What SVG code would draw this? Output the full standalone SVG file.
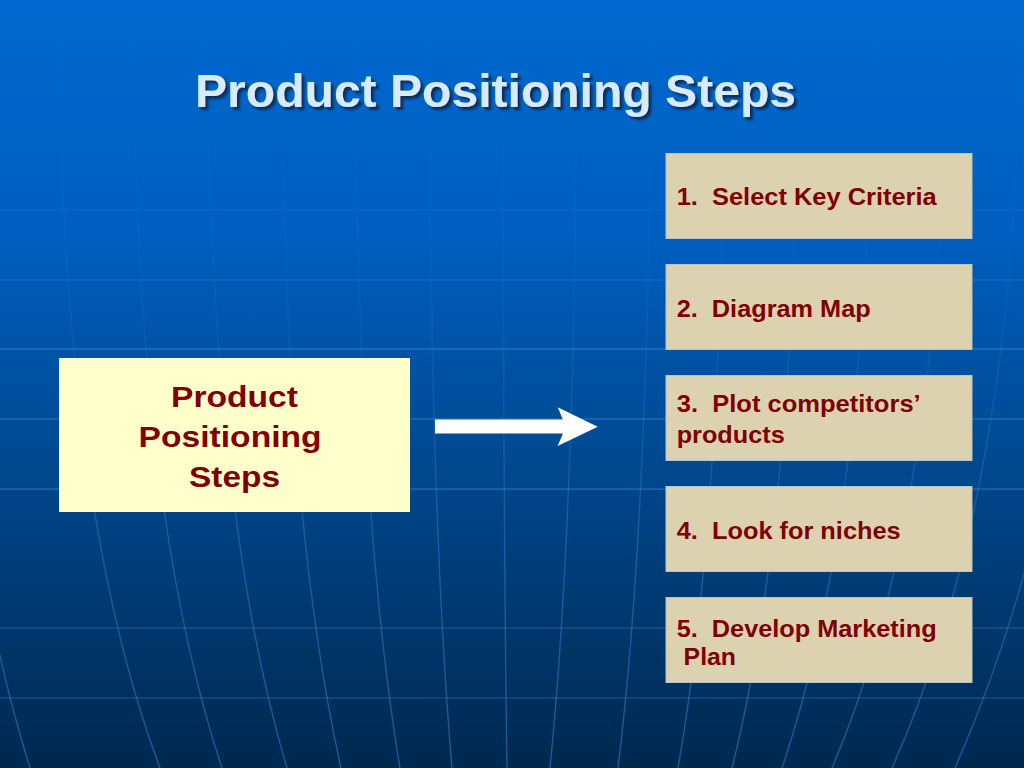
<svg xmlns="http://www.w3.org/2000/svg" width="1024" height="768" viewBox="0 0 1024 768">
  <defs>
    <linearGradient id="bg" x1="0" y1="0" x2="0" y2="1">
      <stop offset="0" stop-color="#0068cf"/>
      <stop offset="0.3" stop-color="#005fc0"/>
      <stop offset="0.62" stop-color="#00478c"/>
      <stop offset="1" stop-color="#00284f"/>
    </linearGradient>
    <linearGradient id="mer" gradientUnits="userSpaceOnUse" x1="0" y1="0" x2="0" y2="768">
      <stop offset="0" stop-color="#4a9cf0" stop-opacity="0"/>
      <stop offset="0.3" stop-color="#4a9cf0" stop-opacity="0.04"/>
      <stop offset="0.5" stop-color="#4a9cf0" stop-opacity="0.16"/>
      <stop offset="0.7" stop-color="#4a9cf0" stop-opacity="0.32"/>
      <stop offset="1" stop-color="#4a9cf0" stop-opacity="0.42"/>
    </linearGradient>
    <filter id="shadow" x="-5%" y="-20%" width="110%" height="150%">
      <feDropShadow dx="3" dy="3" stdDeviation="0.8" flood-color="#0b2650" flood-opacity="0.9"/>
    </filter>
    <style>
      .lat { stroke: #3d8fe8; stroke-width: 1.4; fill: none; }
      .mer { stroke: url(#mer); stroke-width: 1.4; fill: none; }
      .title { font-family: "Liberation Sans", Arial, sans-serif; font-weight: bold; font-size: 46px; fill: #d8ebfc; }
      .main { fill: #ffffcc; }
      .step { fill: #ddd2b0; stroke: #b8c3cc; stroke-width: 1; }
      .lbl { font-family: "Liberation Sans", Arial, sans-serif; font-weight: bold; fill: #800000; white-space: pre; }
      .big { font-size: 30px; }
      .sm { font-size: 24px; }
      .arrow { fill: #ffffff; }
    </style>
  </defs>

  <rect x="0" y="0" width="1024" height="768" fill="url(#bg)"/>

  <g id="grid">
    <line class="lat" x1="0" y1="140" x2="1024" y2="140" stroke-opacity="0.06"/>
    <line class="lat" x1="0" y1="210" x2="1024" y2="210" stroke-opacity="0.14"/>
    <line class="lat" x1="0" y1="280" x2="1024" y2="280" stroke-opacity="0.3"/>
    <line class="lat" x1="0" y1="349" x2="1024" y2="349" stroke-opacity="0.45"/>
    <line class="lat" x1="0" y1="419" x2="1024" y2="419" stroke-opacity="0.45"/>
    <line class="lat" x1="0" y1="489" x2="1024" y2="489" stroke-opacity="0.45"/>
    <line class="lat" x1="0" y1="628" x2="1024" y2="628" stroke-opacity="0.3"/>
    <line class="lat" x1="0" y1="698" x2="1024" y2="698" stroke-opacity="0.3"/>
    <path class="mer" d="M -60,0 Q -60,480 30,768"/>
    <path class="mer" d="M 59,0 Q 59,500 160,768"/>
    <path class="mer" d="M 133,0 Q 133,500 222,768"/>
    <path class="mer" d="M 207,0 Q 207,500 287,768"/>
    <path class="mer" d="M 281,0 Q 281,500 341,768"/>
    <path class="mer" d="M 355,0 Q 355,500 400,768"/>
    <path class="mer" d="M 429,0 Q 429,500 452,768"/>
    <path class="mer" d="M 503,0 Q 503,500 507,768"/>
    <path class="mer" d="M 577,0 Q 577,500 550,768"/>
    <path class="mer" d="M 651,0 Q 651,500 618,768"/>
    <path class="mer" d="M 725,0 Q 725,500 678,768"/>
    <path class="mer" d="M 799,0 Q 799,500 732,768"/>
    <path class="mer" d="M 873,0 Q 873,500 782,768"/>
    <path class="mer" d="M 947,0 Q 947,500 832,768"/>
    <path class="mer" d="M 1021,0 Q 1021,480 892,768"/>
    <path class="mer" d="M 1095,0 Q 1095,450 955,768"/>
  </g>

  <text class="title" x="195" y="107" textLength="601" lengthAdjust="spacingAndGlyphs" filter="url(#shadow)">Product Positioning Steps</text>

  <g id="node-main">
    <rect class="main" x="59" y="358" width="351" height="154"/>
    <text class="lbl big" x="171" y="406.7" textLength="127" lengthAdjust="spacingAndGlyphs">Product</text>
    <text class="lbl big" x="138.6" y="447.3" textLength="183" lengthAdjust="spacingAndGlyphs">Positioning</text>
    <text class="lbl big" x="189" y="486.7" textLength="91" lengthAdjust="spacingAndGlyphs">Steps</text>
  </g>

  <g id="connectors">
    <polygon class="arrow" points="435,419.5 562.9,419.5 557.7,407.3 597.7,426.7 557.7,446 562.9,433.5 435,433.5"/>
  </g>

  <g id="node-step1">
    <rect class="step" x="666" y="153.5" width="306" height="85"/>
    <text class="lbl sm" x="676.7" y="205" textLength="260" lengthAdjust="spacingAndGlyphs" xml:space="preserve">1.  Select Key Criteria</text>
  </g>
  <g id="node-step2">
    <rect class="step" x="666" y="264.5" width="306" height="85"/>
    <text class="lbl sm" x="676.7" y="316.7" textLength="194" lengthAdjust="spacingAndGlyphs" xml:space="preserve">2.  Diagram Map</text>
  </g>
  <g id="node-step3">
    <rect class="step" x="666" y="375.5" width="306" height="85"/>
    <text class="lbl sm" x="676.7" y="411.7" textLength="244" lengthAdjust="spacingAndGlyphs" xml:space="preserve">3.  Plot competitors’</text>
    <text class="lbl sm" x="676.7" y="442.7" textLength="108" lengthAdjust="spacingAndGlyphs">products</text>
  </g>
  <g id="node-step4">
    <rect class="step" x="666" y="486.5" width="306" height="85"/>
    <text class="lbl sm" x="676.7" y="539" textLength="224" lengthAdjust="spacingAndGlyphs" xml:space="preserve">4.  Look for niches</text>
  </g>
  <g id="node-step5">
    <rect class="step" x="666" y="597.5" width="306" height="85"/>
    <text class="lbl sm" x="676.7" y="636.7" textLength="260" lengthAdjust="spacingAndGlyphs" xml:space="preserve">5.  Develop Marketing</text>
    <text class="lbl sm" x="676.7" y="665" textLength="59.3" lengthAdjust="spacingAndGlyphs" xml:space="preserve"> Plan</text>
  </g>
</svg>
